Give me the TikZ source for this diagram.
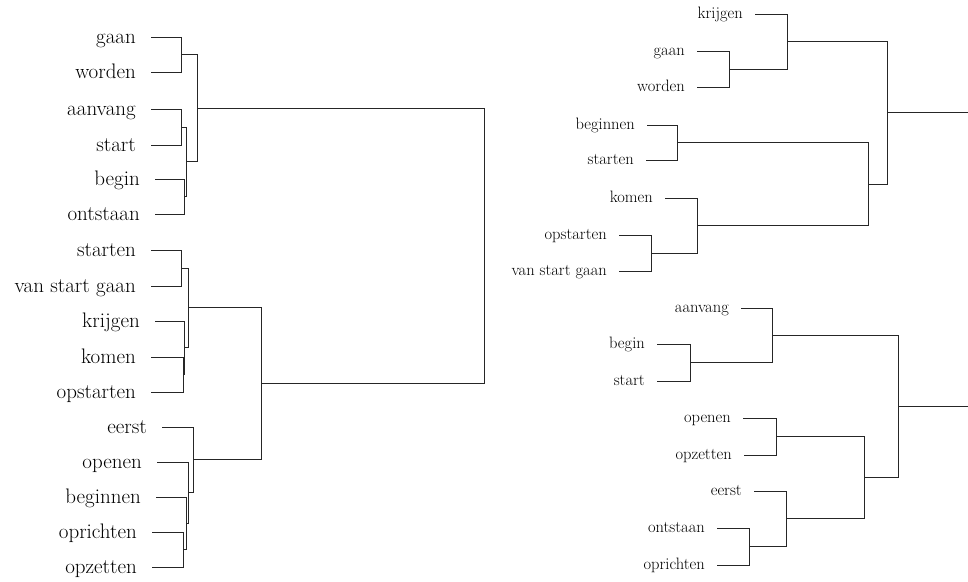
\documentclass[tikz,border=0pt]{standalone}
\usepackage{fontspec}
\begin{document}
\begin{tikzpicture}[x=1pt,y=-1pt,
  leafL/.style={anchor=base east, inner sep=0pt, font=\fontsize{21}{25}\selectfont},
  leafR/.style={anchor=base east, inner sep=0pt, font=\fontsize{16.5}{19}\selectfont},
  conn/.style={draw=black!85, line width=0.9pt}]
\useasboundingbox (0,0) rectangle (968,581);

% ---------------- left dendrogram ----------------
% labels: base at line y + 6, right edge at line start - 15
\node[leafL] (lgaan) at (136,43) {gaan};
\node[leafL] (lworden) at (136,78) {worden};
\node[leafL] (laanvang) at (136,115) {aanvang};
\node[leafL] (lstart) at (136,151) {start};
\node[leafL] (lbegin) at (140,185) {begin};
\node[leafL] (lontstaan) at (140,220) {ontstaan};
\node[leafL] (lstarten) at (136,256) {starten};
\node[leafL] (lvsg) at (136,292) {van start gaan};
\node[leafL] (lkrijgen) at (140,327) {krijgen};
\node[leafL] (lkomen) at (136,363) {komen};
\node[leafL] (lopstarten) at (136,398) {opstarten};
\node[leafL] (leerst) at (147,433) {eerst};
\node[leafL] (lopenen) at (142,468) {openen};
\node[leafL] (lbeginnen) at (141,503) {beginnen};
\node[leafL] (loprichten) at (137,538) {oprichten};
\node[leafL] (lopzetten) at (137,573) {opzetten};

\coordinate (a1) at (181,54.5);
\coordinate (a2) at (181.5,127);
\coordinate (a3) at (184.5,196.5);
\coordinate (a4) at (186.5,161.75);
\coordinate (a5) at (197,108.1);
\coordinate (b1) at (181.5,268);
\coordinate (b2) at (183,374.5);
\coordinate (b3) at (184.5,347.75);
\coordinate (b4) at (188,307.9);
\coordinate (c1) at (183,549.5);
\coordinate (c2) at (186,523.25);
\coordinate (c3) at (188.5,492.6);
\coordinate (c4) at (193,459.8);
\coordinate (ab) at (261,383.85);
\coordinate (root) at (484,246);

\foreach \n/\p in {lgaan/a1,lworden/a1,laanvang/a2,lstart/a2,lbegin/a3,lontstaan/a3,
  lstarten/b1,lvsg/b1,lkrijgen/b3,lkomen/b2,lopstarten/b2,
  leerst/c4,lopenen/c3,lbeginnen/c2,loprichten/c1,lopzetten/c1}
  \draw[conn] ([xshift=15pt,yshift=6pt]\n.base east) -| (\p);
\foreach \c/\p in {a2/a4,a3/a4,a1/a5,a4/a5,b2/b3,b1/b4,b3/b4,c1/c2,c2/c3,c3/c4,b4/ab,c4/ab,a5/root,ab/root}
  \draw[conn] (\c) -| (\p);

% ---------------- top right dendrogram ----------------
% labels: base at line y + 4.5, right edge at line start - 12
\node[leafR] (rkrijgen) at (743,18.5) {krijgen};
\node[leafR] (rgaan) at (685,55.5) {gaan};
\node[leafR] (rworden) at (685,91.5) {worden};
\node[leafR] (rbeginnen) at (635,129.5) {beginnen};
\node[leafR] (rstarten) at (634,164.5) {starten};
\node[leafR] (rkomen) at (653,202.5) {komen};
\node[leafR] (ropstarten) at (607,239.5) {opstarten};
\node[leafR] (rvsg) at (607,275.5) {van start gaan};

\coordinate (r1) at (729,69);
\coordinate (r2) at (787.5,41.5);
\coordinate (s1) at (677,142.5);
\coordinate (s2) at (651,253);
\coordinate (s3) at (697,225.5);
\coordinate (s4) at (868,184);
\coordinate (R) at (887,112.75);
\coordinate (Rend) at (968,112.75);

\foreach \n/\p in {rkrijgen/r2,rgaan/r1,rworden/r1,rbeginnen/s1,rstarten/s1,
  rkomen/s3,ropstarten/s2,rvsg/s2}
  \draw[conn] ([xshift=12pt,yshift=4.5pt]\n.base east) -| (\p);
\foreach \c/\p in {r1/r2,s2/s3,s1/s4,s3/s4,r2/R,s4/R}
  \draw[conn] (\c) -| (\p);
\draw[conn] (R) -- (Rend);

% ---------------- bottom right dendrogram ----------------
\node[leafR] (raanvang) at (729,312.5) {aanvang};
\node[leafR] (rbegin) at (645,348.5) {begin};
\node[leafR] (rstart) at (645,385.5) {start};
\node[leafR] (ropenen) at (731,422.5) {openen};
\node[leafR] (ropzetten) at (732,459.5) {opzetten};
\node[leafR] (reerst) at (742,495.5) {eerst};
\node[leafR] (rontstaan) at (705,532.5) {ontstaan};
\node[leafR] (roprichten) at (705,569.5) {oprichten};

\coordinate (t1) at (690,362.5);
\coordinate (t2) at (772,335.25);
\coordinate (u1) at (776,436.5);
\coordinate (u2) at (749,546.5);
\coordinate (u3) at (786,518.75);
\coordinate (u4) at (864,477.6);
\coordinate (T) at (898,406.4);
\coordinate (Tend) at (968,406.4);

\foreach \n/\p in {raanvang/t2,rbegin/t1,rstart/t1,ropenen/u1,ropzetten/u1,
  reerst/u3,rontstaan/u2,roprichten/u2}
  \draw[conn] ([xshift=12pt,yshift=4.5pt]\n.base east) -| (\p);
\foreach \c/\p in {t1/t2,u2/u3,u1/u4,u3/u4,t2/T,u4/T}
  \draw[conn] (\c) -| (\p);
\draw[conn] (T) -- (Tend);
\end{tikzpicture}
\end{document}
